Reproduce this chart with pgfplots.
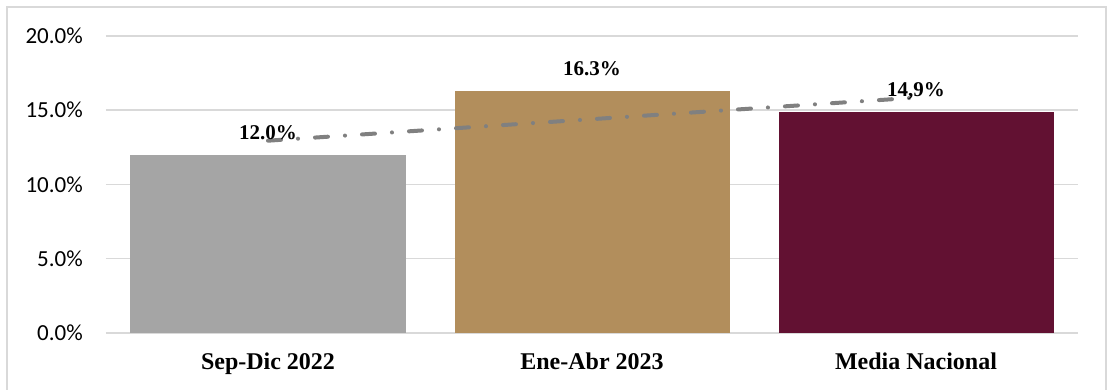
\documentclass[border=0pt]{standalone}
\usepackage{pgfplots}
\pgfplotsset{compat=1.18}
\usepackage{fontspec}
\setmainfont{Liberation Serif}
\newfontfamily\carlito{Carlito}
\definecolor{gridgray}{HTML}{D9D9D9}
\definecolor{bargray}{HTML}{A5A5A5}
\definecolor{bartan}{HTML}{B28E5C}
\definecolor{barmaroon}{HTML}{621132}
\definecolor{trendgray}{HTML}{808080}
\begin{document}
\begin{tikzpicture}
\useasboundingbox (-106pt,-57pt) rectangle (1003pt,333pt);
\begin{axis}[
  scale only axis,
  width=972pt, height=297pt,
  xmin=-0.5, xmax=2.5, ymin=0, ymax=20,
  ytick={0,5,10,15,20},
  yticklabel={\pgfmathprintnumber[fixed,fixed zerofill,precision=1]{\tick}\%},
  /pgf/number format/assume math mode=true,
  yticklabel style={font=\carlito\fontsize{23}{23}\selectfont, anchor=east, inner sep=0pt, xshift=-23pt},
  xtick={0,1,2},
  xticklabels={Sep-Dic 2022, Ene-Abr 2023, Media Nacional},
  xticklabel style={font=\bfseries\fontsize{24}{24}\selectfont, anchor=north, inner sep=0pt, yshift=-20pt},
  major tick length=0pt,
  axis line style={draw=none},
  ymajorgrids,
  grid style={color=gridgray, line width=1.5pt},
  clip=false,
  every node near coord/.append style={font=\bfseries\fontsize{21}{21}\selectfont, anchor=base, yshift=15.5pt, inner sep=0pt, text=black},
  barstyle/.style={ybar, bar width=275pt, bar shift=0pt, draw=none, point meta=explicit symbolic, nodes near coords},
]
\addplot[barstyle, fill=bargray] coordinates {(0,12.0) [12.0\%]};
\addplot[barstyle, fill=bartan] coordinates {(1,16.3) [16.3\%]};
\addplot[barstyle, fill=barmaroon] coordinates {(2,14.9) [14,9\%]};
\addplot[color=trendgray, line width=4pt, line cap=round, dash pattern=on 13pt off 17pt on 0.1pt off 17pt, mark=none] coordinates {(0,12.95) (2,15.85)};
\end{axis}
\draw[gridgray, line width=1.5pt] (-99pt,-70pt) -- (-99pt,326pt) -- (1000pt,326pt) -- (1000pt,-70pt);
\end{tikzpicture}
\end{document}
